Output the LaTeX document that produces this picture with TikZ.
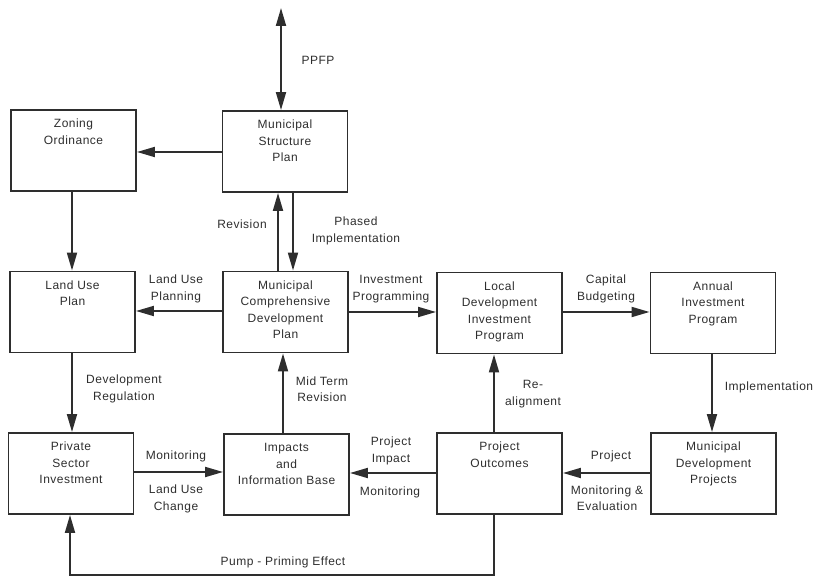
\documentclass[tikz,border=0pt]{standalone}
\usepackage{fontspec}
\setmainfont{Liberation Sans}[LetterSpace=4]
\usetikzlibrary{arrows.meta}
\definecolor{ink}{HTML}{2E2E2E}
\newcommand{\bxt}[1]{\parbox[c][81pt][t]{125pt}{\centering\rule{0pt}{18pt}#1}}
\tikzset{
  box/.style={draw=ink, line width=1.9pt, inner sep=0pt, text=ink,
              font=\fontsize{12}{16.5}\selectfont},
  lbl/.style={text=ink, align=center, inner sep=0pt,
              font=\fontsize{12}{16.5}\selectfont},
  conn/.style={draw=ink, line width=1.9pt, -{Triangle[length=18pt,width=10pt]}},
  conn2/.style={draw=ink, line width=1.9pt, {Triangle[length=18pt,width=10pt]}-{Triangle[length=18pt,width=10pt]}}
}
\begin{document}
\begin{tikzpicture}[x=1pt,y=-1pt]
\useasboundingbox (0,0) rectangle (823,577);
% boxes
\node[box] (zo)   at (73.5,150.5) {\bxt{Zoning\\Ordinance}};
\node[box] (msp)  at (285,151.5)  {\bxt{Municipal\\Structure\\Plan}};
\node[box] (lup)  at (72.5,312)   {\bxt{Land Use\\Plan}};
\node[box] (mcdp) at (285.5,312)  {\bxt{Municipal\\Comprehensive\\Development\\Plan}};
\node[box] (ldip) at (499.5,313)  {\bxt{Local\\Development\\Investment\\Program}};
\node[box] (aip)  at (713,313)    {\bxt{Annual\\Investment\\Program}};
\node[box] (psi)  at (71,473.5)   {\bxt{Private\\Sector\\Investment}};
\node[box] (iib)  at (286.5,474.5){\bxt{Impacts\\and\\Information Base}};
\node[box] (po)   at (499.5,473.5){\bxt{Project\\Outcomes}};
\node[box] (mdp)  at (713.5,473.5){\bxt{Municipal\\Development\\Projects}};
% connectors
\coordinate (ptop) at (281,8);
\draw[conn2] (ptop) -- (ptop |- msp.north);
\draw[conn] (msp.west |- 0,152) -- (zo.east |- 0,152);
\draw[conn] (zo.south -| 72,0) -- (lup.north -| 72,0);
\draw[conn] (mcdp.north -| 278,0) -- (msp.south -| 278,0);
\draw[conn] (msp.south -| 293,0) -- (mcdp.north -| 293,0);
\draw[conn] (mcdp.west |- 0,311) -- (lup.east |- 0,311);
\draw[conn] (mcdp.east |- 0,312) -- (ldip.west |- 0,312);
\draw[conn] (ldip.east |- 0,312) -- (aip.west |- 0,312);
\draw[conn] (aip.south -| 712,0) -- (mdp.north -| 712,0);
\draw[conn] (mdp.west |- 0,473) -- (po.east |- 0,473);
\draw[conn] (po.west |- 0,473) -- (iib.east |- 0,473);
\draw[conn] (po.north -| 494,0) -- (ldip.south -| 494,0);
\draw[conn] (iib.north -| 283,0) -- (mcdp.south -| 283,0);
\draw[conn] (psi.east |- 0,472) -- (iib.west |- 0,472);
\draw[conn] (lup.south -| 72,0) -- (psi.north -| 72,0);
\draw[conn] (po.south -| 494,0) -- (494,575) -| (psi.south -| 70,0);
% labels
\node[lbl] (l1)  at (318,60)   {PPFP};
\node[lbl] (l2)  at (242,224)  {Revision};
\node[lbl] (l3)  at (356,231)  {Phased\\Implementation};
\node[lbl] (l4)  at (176,289)  {Land Use\\Planning};
\node[lbl] (l5)  at (391,289)  {Investment\\Programming};
\node[lbl] (l6)  at (606,289)  {Capital\\Budgeting};
\node[lbl] (l7)  at (769,387)  {Implementation};
\node[lbl] (l8)  at (533,394)  {Re-\\alignment};
\node[lbl] (l9)  at (124,389)  {Development\\Regulation};
\node[lbl] (l10) at (322,389)  {Mid Term\\Revision};
\node[lbl] (l11) at (176,456)  {Monitoring};
\node[lbl] (l12) at (176,499)  {Land Use\\Change};
\node[lbl] (l13) at (391,451)  {Project\\Impact};
\node[lbl] (l14) at (390,492)  {Monitoring};
\node[lbl] (l15) at (611,456)  {Project};
\node[lbl] (l16) at (607,498)  {Monitoring \&\\Evaluation};
\node[lbl] (l17) at (283,562)  {Pump - Priming Effect};
\end{tikzpicture}
\end{document}
